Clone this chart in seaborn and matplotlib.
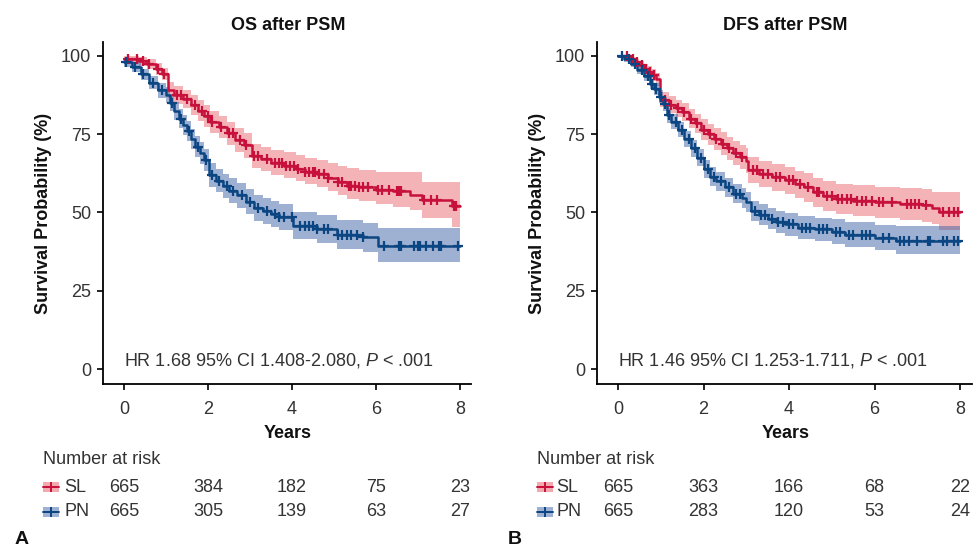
import numpy as np
import pandas as pd
import seaborn as sns
import matplotlib
matplotlib.use("Agg")
import matplotlib.pyplot as plt
import matplotlib.transforms as mtransforms
from matplotlib.patches import Rectangle
from matplotlib.lines import Line2D

# ---------------- data ----------------
groups = ["SL", "PN"]
x_ticks = [0, 2, 4, 6, 8]
y_ticks = [0, 25, 50, 75, 100]

# OS after PSM
os_sl_t = [0, 0.35, 0.55, 0.75, 0.9, 1.05, 1.2, 1.4, 1.6, 1.75, 1.9, 2.05, 2.25, 2.45, 2.65, 2.85, 3.05, 3.25, 3.5, 3.8, 4.1, 4.3, 4.6, 4.85, 5.1, 5.3, 5.6, 6.0, 6.4, 6.8, 7.1, 7.8, 8.0]
os_sl_s = [99, 98.3, 97.3, 95.8, 94.2, 89, 87.5, 86.2, 84.5, 82.5, 80.8, 79, 77.3, 75.3, 73.2, 71.5, 68, 67, 65.8, 65, 64, 63, 62.3, 61, 59.8, 58.5, 58, 57.2, 56.8, 55.5, 54, 52, 52]
os_sl_lo = [97.5, 96.8, 95.8, 94, 92.3, 86.6, 84.8, 83.3, 81.3, 79.3, 77.4, 75.5, 73.7, 71.6, 69.4, 67.5, 64.2, 63.2, 61.9, 61, 60, 59, 58.2, 56.9, 55.7, 54.3, 53.8, 52.7, 51.8, 50.8, 48.2, 45.4, 45.4]
os_sl_hi = [100, 99.6, 99, 97.8, 96.3, 91.6, 90.3, 89.1, 87.6, 85.8, 84.2, 82.5, 80.8, 79, 77, 75.3, 72, 71, 70, 69.3, 68.3, 67.4, 66.8, 65.8, 64.8, 64.2, 63.6, 63, 63, 63, 59.7, 59.7, 59.7]
os_sl_cens = [0.1, 0.3, 0.45, 0.6, 0.8, 0.95, 1.25, 1.35, 1.5, 1.7, 1.85, 2.0, 2.1, 2.3, 2.5, 2.6, 2.75, 2.9, 3.1, 3.2, 3.4, 3.6, 3.7, 3.75, 3.85, 3.95, 4.05, 4.15, 4.3, 4.4, 4.5, 4.55, 4.65, 4.75, 4.85, 5.1, 5.2, 5.35, 5.4, 5.5, 5.6, 5.7, 5.8, 6.05, 6.15, 6.3, 6.5, 6.55, 6.6, 7.15, 7.3, 7.45, 7.85, 7.9]

os_pn_t = [0, 0.2, 0.4, 0.6, 0.8, 1.0, 1.1, 1.2, 1.3, 1.4, 1.5, 1.6, 1.7, 1.8, 1.9, 2.03, 2.2, 2.35, 2.5, 2.7, 2.9, 3.1, 3.3, 3.5, 3.7, 4.03, 4.6, 5.06, 5.7, 6.05, 8.0]
os_pn_s = [98, 96.5, 94.2, 91.5, 89, 87.5, 85, 82.5, 80, 78, 76, 73.5, 71, 69, 66.8, 62, 60.2, 58.5, 57, 55.5, 53.5, 51.5, 50.5, 49.5, 48.5, 45.7, 44.7, 42.9, 42.1, 39.4, 39.4]
os_pn_lo = [96.5, 95, 92.4, 89.4, 86.6, 85, 82.3, 79.6, 77, 74.9, 72.8, 70.2, 67.6, 65.5, 63.2, 58.3, 56.4, 54.7, 53.1, 51.5, 49.5, 47.4, 46.4, 45.3, 44.3, 41.4, 40.3, 38.3, 37.4, 34.3, 34.3]
os_pn_hi = [99.2, 98, 96, 93.6, 91.4, 90, 87.7, 85.4, 83, 81.1, 79.2, 76.8, 74.4, 72.5, 70.4, 65.7, 64, 62.3, 60.9, 59.5, 57.5, 55.6, 54.6, 53.7, 52.7, 50.1, 49.1, 47.6, 46.8, 45, 45]
os_pn_cens = [0.05, 0.25, 0.45, 0.7, 0.9, 1.15, 1.35, 1.55, 1.75, 1.95, 2.1, 2.25, 2.45, 2.6, 2.8, 3.0, 3.2, 3.4, 3.6, 3.7, 3.8, 4.0, 4.2, 4.3, 4.4, 4.5, 4.6, 4.75, 4.85, 5.1, 5.2, 5.3, 5.4, 5.55, 5.7, 6.2, 6.55, 6.6, 6.9, 7.0, 7.05, 7.2, 7.35, 7.5, 7.55, 7.95]

# DFS after PSM
dfs_sl_t = [0, 0.3, 0.4, 0.5, 0.6, 0.7, 0.8, 0.9, 0.98, 1.2, 1.35, 1.5, 1.65, 1.8, 1.95, 2.1, 2.25, 2.4, 2.55, 2.7, 2.85, 3.0, 3.05, 3.3, 3.6, 3.9, 4.15, 4.35, 4.55, 4.8, 5.1, 5.5, 6.0, 6.6, 7.1, 7.35, 7.5, 8.0]
dfs_sl_s = [100, 99, 98, 97, 96, 95, 93.8, 92.5, 86, 84.5, 83.3, 82, 80, 78.5, 76.5, 75, 73.5, 72, 70.5, 69, 67.8, 66.5, 63.5, 62.3, 61.2, 60.3, 59, 58, 56.5, 55.3, 54.3, 53.8, 53.2, 52.8, 52.3, 51.5, 50, 50]
dfs_sl_lo = [100, 98.2, 97, 95.8, 94.6, 93.4, 92, 90.5, 83.6, 81.9, 80.6, 79.1, 77, 75.4, 73.2, 71.6, 70, 68.4, 66.8, 65.2, 63.9, 62.5, 59.4, 58.2, 57, 56, 54.6, 53.5, 51.9, 50.6, 49.5, 48.9, 48.2, 47.7, 47.1, 46.3, 44.4, 44.4]
dfs_sl_hi = [100, 99.8, 99.2, 98.4, 97.6, 96.8, 95.7, 94.6, 88.4, 87.1, 86, 84.9, 83, 81.6, 79.8, 78.4, 77, 75.6, 74.2, 72.8, 71.7, 70.5, 67.6, 66.4, 65.4, 64.6, 63.4, 62.5, 61.1, 60, 59.1, 58.7, 58.2, 57.9, 57.5, 56.7, 56.4, 56.4]
dfs_sl_cens = [0.2, 0.35, 0.45, 0.55, 0.65, 0.75, 0.85, 1.1, 1.25, 1.4, 1.55, 1.7, 1.85, 2.0, 2.15, 2.3, 2.45, 2.6, 2.75, 2.9, 3.15, 3.25, 3.4, 3.5, 3.7, 3.8, 4.0, 4.1, 4.25, 4.45, 4.65, 4.7, 4.9, 5.0, 5.15, 5.25, 5.35, 5.45, 5.6, 5.7, 5.8, 5.95, 6.1, 6.2, 6.4, 6.75, 6.85, 6.95, 7.05, 7.2, 7.6, 7.75, 7.85, 7.95]

dfs_pn_t = [0, 0.15, 0.3, 0.45, 0.6, 0.75, 0.85, 0.95, 1.05, 1.15, 1.25, 1.4, 1.55, 1.7, 1.85, 2.0, 2.15, 2.3, 2.5, 2.7, 2.9, 3.0, 3.1, 3.3, 3.5, 3.7, 3.9, 4.2, 4.6, 5.0, 5.3, 6.0, 6.5, 8.0]
dfs_pn_s = [100, 99, 97.5, 95.5, 93.5, 91, 89.5, 87, 84.6, 81, 79, 76.5, 73.5, 70.5, 67.5, 64, 61.5, 60, 58, 56, 54.5, 53.3, 50.5, 49.3, 48, 47, 46.2, 45.2, 44.6, 43.9, 42.9, 42, 41, 41]
dfs_pn_lo = [100, 98.2, 96.4, 94.2, 92, 89.3, 87.6, 85, 82.4, 78.7, 76.6, 74, 70.9, 67.8, 64.7, 61.1, 58.5, 57, 54.9, 52.9, 51.3, 50.1, 47.2, 46, 44.6, 43.5, 42.6, 41.5, 40.8, 40, 38.9, 37.9, 36.7, 36.7]
dfs_pn_hi = [100, 99.8, 98.6, 96.8, 95, 92.7, 91.4, 89, 86.8, 83.3, 81.4, 79, 76.1, 73.2, 70.3, 66.9, 64.5, 63, 61.1, 59.1, 57.7, 56.5, 53.8, 52.6, 51.4, 50.5, 49.8, 48.9, 48.4, 47.8, 46.9, 46.1, 45.8, 45.8]
dfs_pn_cens = [0.1, 0.25, 0.4, 0.55, 0.7, 0.8, 0.9, 1.0, 1.1, 1.2, 1.35, 1.5, 1.65, 1.8, 1.95, 2.1, 2.25, 2.4, 2.6, 2.75, 2.85, 3.2, 3.35, 3.45, 3.6, 3.75, 3.85, 4.0, 4.1, 4.3, 4.4, 4.5, 4.7, 4.8, 4.9, 5.1, 5.2, 5.4, 5.5, 5.7, 5.8, 5.9, 6.2, 6.35, 6.6, 6.7, 6.8, 7.0, 7.25, 7.3, 7.6, 7.7, 7.85, 7.95]

os_risk_sl = [665, 384, 182, 75, 23]
os_risk_pn = [665, 305, 139, 63, 27]
dfs_risk_sl = [665, 363, 166, 68, 22]
dfs_risk_pn = [665, 283, 120, 53, 24]

titles = ["OS after PSM", "DFS after PSM"]
hr_texts = ["HR 1.68 95% CI 1.408-2.080, $P$ < .001",
            "HR 1.46 95% CI 1.253-1.711, $P$ < .001"]
panel_letters = ["A", "B"]

# ---------------- style ----------------
sns.set_theme(style="white")
plt.rcParams["font.family"] = ["Liberation Sans", "DejaVu Sans"]
plt.rcParams["mathtext.fontset"] = "custom"
plt.rcParams["mathtext.rm"] = "Liberation Sans"
plt.rcParams["mathtext.it"] = "Liberation Sans:italic"

RED = "#C8103C"
BLUE = "#0B4682"
RED_FILL = "#E8575F"
BLUE_FILL = "#3F64A8"
TXT = "#333333"
FS = 13

W, H = 973, 548
fig = plt.figure(figsize=(W / 100, H / 100), dpi=100)


def fx(px):
    return px / W


def fy(py):
    return 1 - py / H


def make_df(t, s, lo, hi):
    return pd.DataFrame({"time": t, "surv": s, "lower": lo, "upper": hi})


panels = [
    dict(left=103, right=471, x0=124, x8=460,
         sl=make_df(os_sl_t, os_sl_s, os_sl_lo, os_sl_hi), sl_c=os_sl_cens,
         pn=make_df(os_pn_t, os_pn_s, os_pn_lo, os_pn_hi), pn_c=os_pn_cens,
         risk=[os_risk_sl, os_risk_pn], key_x=43, lab_x=64, letter_x=15),
    dict(left=597, right=972, x0=618, x8=960,
         sl=make_df(dfs_sl_t, dfs_sl_s, dfs_sl_lo, dfs_sl_hi), sl_c=dfs_sl_cens,
         pn=make_df(dfs_pn_t, dfs_pn_s, dfs_pn_lo, dfs_pn_hi), pn_c=dfs_pn_cens,
         risk=[dfs_risk_sl, dfs_risk_pn], key_x=537, lab_x=556, letter_x=508),
]

top_px, bot_px = 42, 384
y0_px, y100_px = 369, 56

for i, p in enumerate(panels):
    ax = fig.add_axes([fx(p["left"]), fy(bot_px), fx(p["right"] - p["left"]), (bot_px - top_px) / H])
    scale = (p["x8"] - p["x0"]) / 8
    ax.set_xlim((p["left"] - p["x0"]) / scale, (p["right"] - p["x0"]) / scale)
    yscale = (y0_px - y100_px) / 100
    ax.set_ylim((y0_px - bot_px) / yscale, (y0_px - top_px) / yscale)

    for key, fcol, alpha in [("sl", RED_FILL, 0.45), ("pn", BLUE_FILL, 0.5)]:
        df = p[key]
        ax.fill_between(df["time"], df["lower"], df["upper"], step="post",
                        color=fcol, alpha=alpha, linewidth=0, zorder=1)
    for key, col, cens in [("sl", RED, p["sl_c"]), ("pn", BLUE, p["pn_c"])]:
        df = p[key]
        sns.lineplot(data=df, x="time", y="surv", drawstyle="steps-post", color=col,
                     linewidth=1.8, ax=ax, estimator=None, sort=False, zorder=3)
        t = np.asarray(df["time"])
        s = np.asarray(df["surv"])
        c = np.asarray(cens)
        idx = np.searchsorted(t, c, side="right") - 1
        ax.plot(c, s[idx], linestyle="none", marker="+", markersize=7.5,
                markeredgewidth=1.6, color=col, zorder=4)

    ax.set_xticks(x_ticks)
    ax.set_yticks(y_ticks)
    ax.set_xlabel("")
    ax.set_ylabel("")
    for sp in ["top", "right"]:
        ax.spines[sp].set_visible(False)
    for sp in ["left", "bottom"]:
        ax.spines[sp].set_color("black")
        ax.spines[sp].set_linewidth(1.3)
    ax.tick_params(axis="both", direction="out", length=4.5, width=1.2, color="black",
                   labelsize=FS, labelcolor=TXT, left=True, bottom=True)
    ax.tick_params(axis="x", pad=8)
    ax.tick_params(axis="y", pad=4)
    ax.grid(False)

    ax.text(0, 2.6, hr_texts[i], fontsize=FS, color=TXT, ha="left", va="center")

    cx = (p["left"] + p["right"]) / 2
    fig.text(fx(cx + 1), fy(25), titles[i], fontsize=FS, fontweight="bold", ha="center", va="center", color="#111111")
    fig.text(fx(p["left"] - 59), fy((top_px + bot_px) / 2), "Survival Probability (%)", rotation=90,
             fontsize=FS, fontweight="bold", ha="center", va="center", color="#111111")
    fig.text(fx(cx + 1), fy(433), "Years", fontsize=FS, fontweight="bold", ha="center", va="center", color="#111111")

    # number at risk table
    fig.text(fx(p["key_x"]), fy(460), "Number at risk", fontsize=FS, ha="left", va="center", color=TXT)
    trans = mtransforms.blended_transform_factory(ax.transData, fig.transFigure)
    for row, (g, col, fcol, ypx) in enumerate([("SL", RED, RED_FILL, 487), ("PN", BLUE, BLUE_FILL, 512)]):
        kx = p["key_x"]
        fig.add_artist(Rectangle((fx(kx), fy(ypx + 5)), fx(16), 10 / H, transform=fig.transFigure,
                                 facecolor=fcol, alpha=0.5, edgecolor="none"))
        fig.add_artist(Line2D([fx(kx), fx(kx + 16)], [fy(ypx), fy(ypx)], transform=fig.transFigure,
                              color=col, linewidth=1.4))
        fig.add_artist(Line2D([fx(kx + 8)], [fy(ypx)], transform=fig.transFigure, color=col,
                              marker="+", markersize=7, markeredgewidth=1.4, linestyle="none"))
        fig.text(fx(p["lab_x"]), fy(ypx), g, fontsize=FS, ha="left", va="center", color=TXT)
        for xt, n in zip(x_ticks, p["risk"][row]):
            ax.text(xt, fy(ypx), str(n), transform=trans, fontsize=FS, ha="center", va="center",
                    color=TXT, clip_on=False)

    fig.text(fx(p["letter_x"]), fy(539), panel_letters[i], fontsize=14, fontweight="bold",
             ha="left", va="center", color="#111111")

fig.savefig("out.png", dpi=100)
